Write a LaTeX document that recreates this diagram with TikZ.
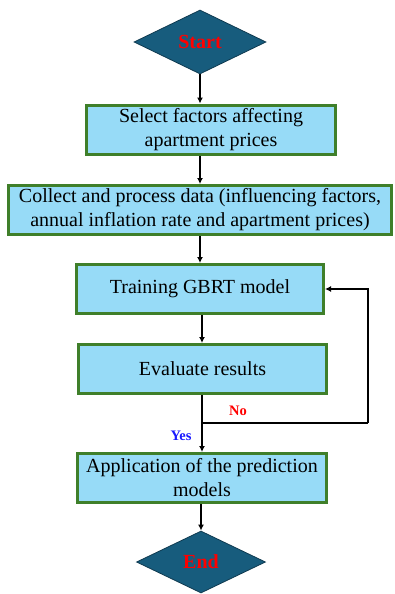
\documentclass[tikz,border=0pt]{standalone}
\usepackage{fontspec}
\setmainfont{Liberation Serif}
\usetikzlibrary{shapes.geometric,arrows.meta}
\definecolor{dfill}{HTML}{175C7D}
\definecolor{dline}{HTML}{0F3A50}
\definecolor{bfill}{HTML}{97DBF7}
\definecolor{bline}{HTML}{3F7F2A}
\definecolor{nored}{HTML}{FF0000}
\definecolor{yesblue}{HTML}{1A1AFF}
\tikzset{
  term/.style={diamond, draw=dline, line width=0.8pt, fill=dfill, inner sep=0pt,
    text=nored, font=\fontsize{20}{24}\selectfont\bfseries},
  stepbox/.style={rectangle, draw=bline, line width=3pt, fill=bfill, inner sep=0pt,
    align=center, font=\fontsize{20}{24}\selectfont, minimum height=49pt},
  conn/.style={line width=1.6pt, -{Latex[length=6pt,width=6pt]}},
  lbl/.style={font=\fontsize{14.5}{17}\selectfont\bfseries, inner sep=0pt}
}
\begin{document}
\begin{tikzpicture}[x=1pt,y=-1pt]
\useasboundingbox (0,0) rectangle (395,594);
\node[term, minimum width=132pt, minimum height=64pt] (start) at (200,42) {Start};
\node[stepbox, minimum width=249pt] (b1) at (211,129.5) {Select factors affecting\\apartment prices};
\node[stepbox, minimum width=383pt] (b2) at (200,210) {Collect and process data (influencing factors,\\annual inflation rate and apartment prices)};
\node[stepbox, minimum width=247pt] (train) at (200,289) {Training GBRT model};
\node[stepbox, minimum width=248pt] (eval) at (202.5,369) {Evaluate results};
\node[stepbox, minimum width=249pt] (app) at (202,478) {Application of the prediction\\models};
\node[term, minimum width=129pt, minimum height=62pt] (end) at (201,562) {End};
\coordinate (j) at (202,423);
\coordinate (r) at (368,423);
\draw[conn] (start.south) -- (start.south |- b1.north);
\draw[conn] (b2.north |- b1.south) -- (b2.north);
\draw[conn] (b2.south) -- (train.north);
\draw[conn] (train.south -| j) -- (eval.north -| j);
\draw[conn] (eval.south -| j) -- (app.north -| j);
\draw[line width=1.6pt] (j) -- (r);
\draw[conn] (r) |- (train.east);
\draw[conn] (app.south -| end) -- (end.north);
\node[lbl, text=nored] (no) at (238,411) {No};
\node[lbl, text=yesblue] (yes) at (181,436) {Yes};
\end{tikzpicture}
\end{document}
